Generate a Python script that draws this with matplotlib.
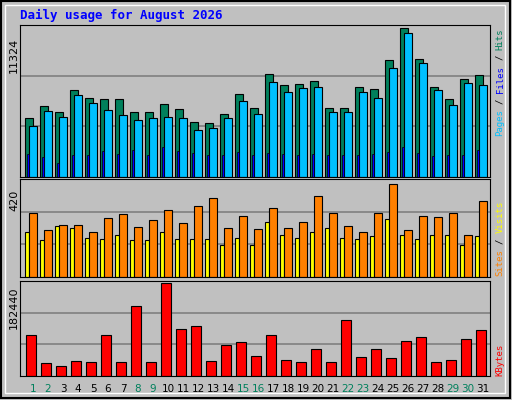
import matplotlib
matplotlib.use("Agg")
import matplotlib.pyplot as plt
from matplotlib.patches import Rectangle
import numpy as np

days = list(range(1, 32))
hits = [4389,5267,4840,6496,5894,5819,5819,4840,4840,5442,5066,4088,4013,4690,6195,5141,
        7700,6872,6947,7173,5141,5141,6721,6571,8753,11085,8828,6721,5819,7323,7624]
files = [3787,4916,4464,6120,5518,4991,4615,4239,4389,4464,4389,3486,3637,4389,5668,4690,
         7098,6345,6646,6721,4840,4840,6345,5894,8151,10709,8527,6496,5367,7022,6872]
pages = [1680,1455,1078,1605,1605,1906,1680,1981,1605,2207,1906,1756,1605,1605,1831,1605,
         1756,1680,1605,1680,1605,1605,1605,1680,1831,2207,1756,1530,1605,1605,1981]
visits = [273,200,225,221,191,251,269,213,243,286,230,303,337,208,260,204,294,208,234,346,
          273,217,195,273,398,200,260,256,273,182,325]
sites = [195,157,217,208,169,161,178,157,157,191,165,161,165,139,169,139,234,178,169,195,
         208,169,165,174,247,178,165,182,178,139,174]
kbytes = [78700,24070,20160,27970,26020,78700,26020,135290,26020,178210,90410,96260,27970,
          59190,65040,37720,78700,29920,26020,51380,26020,107970,35770,51380,33820,66990,
          74800,26020,29920,70890,88460]
weekend = [1,2,8,9,15,16,22,23,29,30]
max_hits, max_visits, max_kb = 11324, 420, 182440

W, H = 512, 400
fig = plt.figure(figsize=(W/100, H/100), dpi=100)
fig.patch.set_facecolor("#c0c0c0")
mono = "DejaVu Sans Mono"
X0, X1 = 0.5, 0.5 + 470/15.0

def ax_px(x0, y0, x1, y1):
    return fig.add_axes([x0/W, 1-y1/H, (x1-x0)/W, (y1-y0)/H])

bg = fig.add_axes([0, 0, 1, 1]); bg.set_xlim(0, W); bg.set_ylim(H, 0); bg.axis("off")
bg.add_patch(Rectangle((1, 1), W-3, H-3, fill=False, ec="black", lw=1.5))
bg.add_patch(Rectangle((5, 5), W-12, H-12, fill=False, ec="white", lw=1))
bg.text(20, 15, "Daily usage for August 2026", color="#0000ff", family=mono,
        fontweight="bold", fontsize=9, va="center")

x = np.array(days, dtype=float)
def style(ax, top):
    ax.set_facecolor("#c0c0c0")
    ax.set_xlim(X0, X1)
    ax.set_ylim(0, top)
    ax.set_yticks([top/3, 2*top/3])
    ax.yaxis.grid(True, color="#808080", lw=1.2)
    ax.set_axisbelow(True)
    ax.tick_params(length=0, labelleft=False, labelbottom=False)
    for s in ax.spines.values():
        s.set_color("black")

a1 = ax_px(20, 25, 490, 177)
style(a1, max_hits)
a1.bar(x-0.15, hits, width=0.49, align="edge", color="#00805c", ec="black", lw=0.8)
a1.bar(x+0.11, files, width=0.49, align="edge", color="#00c0ff", ec="black", lw=0.8)
a1.bar(x-0.06, pages, width=0.17, align="edge", color="#0000ff", ec="black", lw=0.5)

a2 = ax_px(20, 179, 490, 277)
style(a2, max_visits)
a2.bar(x-0.15, sites, width=0.26, align="edge", color="#ffff00", ec="black", lw=0.8)
a2.bar(x+0.11, visits, width=0.49, align="edge", color="#ff8000", ec="black", lw=0.8)

a3 = ax_px(20, 281, 490, 376)
style(a3, max_kb)
a3.bar(x-0.08, kbytes, width=0.66, align="edge", color="#ff0000", ec="black", lw=0.8)

for d in days:
    bg.text(20 + (d + 0.37 - X0) * 15, 389, str(d), ha="center", va="center",
            fontsize=7.5, color="#00805c" if d in weekend else "black")

for y, t in [(55, str(max_hits)), (200, str(max_visits)), (308, str(max_kb))]:
    bg.text(14, y, t, rotation=90, ha="center", va="center", fontsize=8, color="black")

def vlabel(xc, ybottom, parts):
    y = ybottom
    for txt, col in parts:
        s = txt.strip()
        lead = len(txt) - len(txt.lstrip())
        bg.text(xc, y - lead*5.4, s, rotation=90, ha="center", va="bottom", family=mono,
                fontsize=6.5, color=col)
        y -= len(txt) * 5.4

vlabel(500, 136, [("Pages", "#00c0ff"), (" / ", "black"), ("Files", "#0000ff"),
                  (" / ", "black"), ("Hits", "#00805c")])
vlabel(500, 276, [("Sites", "#ff8000"), (" / ", "black"), ("Visits", "#ffff00")])
vlabel(500, 376, [("KBytes", "#ff0000")])

fig.savefig("out.png", dpi=100, facecolor=fig.get_facecolor())
